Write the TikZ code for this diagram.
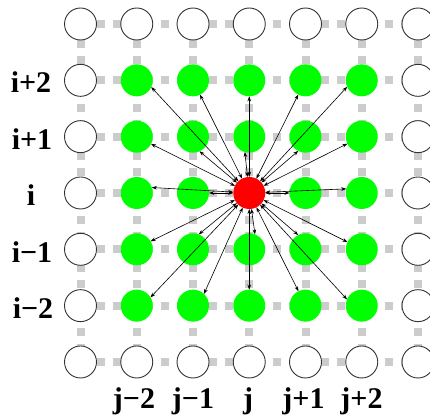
\documentclass[tikz,border=0pt]{standalone}
\usepackage{fontspec}
\setmainfont{Liberation Serif}[BoldFont={Liberation Serif Bold}]
\newfontfamily\labfont{Liberation Serif Bold}
\usetikzlibrary{arrows.meta}
\definecolor{gridgray}{RGB}{204,204,204}
\definecolor{cellgreen}{RGB}{0,255,0}
\definecolor{cellred}{RGB}{255,0,0}
\begin{document}
\begin{tikzpicture}[x=1pt,y=-1pt,
  gridline/.style={line width=8pt, draw=gridgray, dash pattern=on 8pt off 8pt},
  cell/.style={circle, minimum size=32pt, inner sep=0pt, outer sep=0pt},
  emptycell/.style={cell, draw=black!80, line width=0.9pt, fill=white},
  greencell/.style={cell, fill=cellgreen},
  redcell/.style={cell, fill=cellred},
  link/.style={line width=0.6pt, {Stealth[length=5pt,width=3.6pt]}-{Stealth[length=5pt,width=3.6pt]}},
  lab/.style={font=\labfont\fontsize{30}{36}\selectfont, anchor=base, inner sep=0pt}]
\useasboundingbox (0,0) rectangle (430,414);
% grid lines
\foreach \k in {0,...,6}{
  \pgfmathsetmacro\py{24+56.33*\k}
  \pgfmathsetmacro\px{80.5+56.25*\k}
  \draw[gridline] (80.5,\py) -- (418,\py);
  \draw[gridline] (\px,24) -- (\px,362);
}
% cells
\foreach \c in {0,...,6}{
  \foreach \r in {0,...,6}{
    \pgfmathsetmacro\px{80.5+56.25*\c}
    \pgfmathsetmacro\py{24+56.33*\r}
    \def\kind{greencell}
    \ifnum\c=0 \def\kind{emptycell}\fi
    \ifnum\c=6 \def\kind{emptycell}\fi
    \ifnum\r=0 \def\kind{emptycell}\fi
    \ifnum\r=6 \def\kind{emptycell}\fi
    \ifnum\c=3 \ifnum\r=3 \def\kind{redcell}\fi\fi
    \node[\kind] (n\c\r) at (\px,\py) {};
  }
}
% links
\foreach \c/\r/\a in {1/1/335, 2/1/296.6, 3/1/270, 4/1/243.4, 5/1/204,
                      1/2/333.4, 2/2/294, 3/2/254, 4/2/243, 5/2/206.6,
                      1/3/20, 2/3/0, 4/3/180, 5/3/165,
                      1/4/30, 2/4/69, 3/4/69, 4/4/117, 5/4/153.4,
                      1/5/31, 2/5/47, 3/5/90, 4/5/116.6, 5/5/157}
  \draw[link] (n33) -- (n\c\r.\a);
% row labels
\node[lab] (ri2) at (31,93) {i+2};
\node[lab] (ri1) at (32,149.5) {i+1};
\node[lab] (ri0) at (31,205.5) {i};
\node[lab] (rim1) at (32,262) {i−1};
\node[lab] (rim2) at (33,318) {i−2};
% column labels
\node[lab] (cjm2) at (134,408) {j−2};
\node[lab] (cjm1) at (193,408) {j−1};
\node[lab] (cj0) at (248,408) {j};
\node[lab] (cj1) at (303.5,408) {j+1};
\node[lab] (cj2) at (361.5,408) {j+2};
\end{tikzpicture}
\end{document}
